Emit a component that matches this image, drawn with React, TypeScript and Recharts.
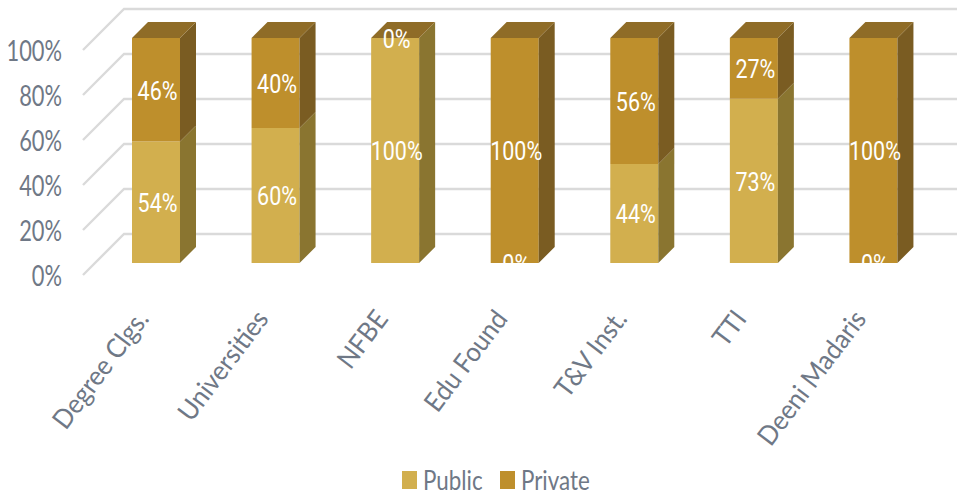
import React from "react";
import { BarChart, Bar, XAxis, YAxis, CartesianGrid, Legend, LabelList } from "recharts";

const categories = ["Degree Clgs.", "Universities", "NFBE", "Edu Found", "T&V Inst.", "TTI", "Deeni Madaris"];
const publicShare = [54, 60, 100, 0, 44, 73, 0];
const privateShare = [46, 40, 0, 100, 56, 27, 100];
const yTicks = [0, 20, 40, 60, 80, 100];

const rows = categories.map((name, i) => ({ name, Public: publicShare[i], Private: privateShare[i] }));

const WIDTH = 957;
const HEIGHT = 496;
const PLOT_BOTTOM = 263;
const DEPTH = 16;
const AXIS_COLOR = "#6f7886";
const AXIS_FONT = "Lato, sans-serif";
const LABEL_FONT = "Roboto, sans-serif";

const PALETTE = {
  Public: { front: "#D2AF4E", side: "#8A7530", top: "#9A7B33" },
  Private: { front: "#BE8F2C", side: "#7A5C22", top: "#8F6C27" },
};

// Floor-and-wall gridline: short diagonal in front, then flat along the back wall.
const GridLine = (props: any) => {
  const y = props.y1;
  const points = `83,${y + 12} 124,${y - 29} ${WIDTH},${y - 29}`;
  return <polyline points={points} fill="none" stroke="#DADADA" strokeWidth={2.4} />;
};

// Front, side and (for the upper series) top faces of one extruded segment.
const Block = (props: any) => {
  const { x, y, width, height, tone, capped } = props;
  const c = PALETTE[tone as keyof typeof PALETTE];
  const right = x + width;
  const bottom = y + height;
  return (
    <g>
      {height > 0 && <rect x={x} y={y} width={width} height={height} fill={c.front} />}
      {height > 0 && (
        <polygon
          points={`${right},${y} ${right + DEPTH},${y - DEPTH} ${right + DEPTH},${bottom - DEPTH} ${right},${bottom}`}
          fill={c.side}
        />
      )}
      {capped && (
        <polygon
          points={`${x},${y} ${x + DEPTH},${y - DEPTH} ${right + DEPTH},${y - DEPTH} ${right},${y}`}
          fill={c.top}
        />
      )}
    </g>
  );
};

const SegmentLabel = (props: any) => {
  const { x, y, width, height, value } = props;
  const cx = x + width / 2 + 1.5;
  const cy = y + height / 2 + 1;
  return (
    <g clipPath="url(#floorClip)">
      <text
        transform={`translate(${cx},${cy}) scale(0.86,1.05)`}
        textAnchor="middle"
        dominantBaseline="central"
        fill="#FFFFFF"
        fontFamily={LABEL_FONT}
        fontSize={25}
      >
        {value}%
      </text>
    </g>
  );
};

const YTick = (props: any) => {
  const { y, payload } = props;
  return (
    <text
      transform={`translate(62,${y + 12}) scale(0.84,1.12)`}
      textAnchor="end"
      dominantBaseline="central"
      fill={AXIS_COLOR}
      fontFamily={AXIS_FONT}
      fontSize={26}
    >
      {payload.value}%
    </text>
  );
};

const XTick = (props: any) => {
  const { x, payload } = props;
  return (
    <text
      transform={`translate(${x - 14},${PLOT_BOTTOM + 50}) rotate(-53) scale(0.97,1.03)`}
      textAnchor="end"
      dominantBaseline="central"
      fill={AXIS_COLOR}
      fontFamily={AXIS_FONT}
      fontSize={26}
    >
      {payload.value}
    </text>
  );
};

const legendTextWidths = [70, 84];

const LegendRow = (props: any) => {
  const items = props.payload ?? [];
  return (
    <div style={{ display: "flex", alignItems: "center", fontFamily: AXIS_FONT, fontSize: 26, color: AXIS_COLOR }}>
      {items.map((item: any, i: number) => (
        <div key={item.value} style={{ display: "flex", alignItems: "center", marginLeft: i ? 7 : 0 }}>
          <span style={{ width: 15, height: 18, background: item.color, display: "inline-block", marginRight: 6 }} />
          <span
            style={{
              display: "inline-block",
              transform: "scaleX(0.86)",
              transformOrigin: "left center",
              width: legendTextWidths[i],
              whiteSpace: "nowrap",
            }}
          >
            {item.value}
          </span>
        </div>
      ))}
    </div>
  );
};

export default function App() {
  return (
    <div style={{ position: "absolute", left: 0, top: 0, width: WIDTH, height: HEIGHT, background: "#fff" }}>
      <BarChart
        width={WIDTH}
        height={HEIGHT}
        data={rows}
        margin={{ top: 38, right: 24, bottom: 0, left: 0 }}
      >
        <defs>
          <clipPath id="floorClip" clipPathUnits="userSpaceOnUse">
            <rect x={0} y={0} width={WIDTH} height={PLOT_BOTTOM} />
          </clipPath>
        </defs>
        <CartesianGrid vertical={false} horizontal={<GridLine />} />
        <XAxis
          dataKey="name"
          height={HEIGHT - PLOT_BOTTOM}
          axisLine={false}
          tickLine={false}
          interval={0}
          tick={<XTick />}
        />
        <YAxis
          width={96}
          domain={[0, 100]}
          ticks={yTicks}
          axisLine={false}
          tickLine={false}
          tick={<YTick />}
        />
        <Legend
          layout="horizontal"
          align="center"
          verticalAlign="middle"
          itemSorter={null}
          content={<LegendRow />}
          wrapperStyle={{ position: "absolute", left: 402, top: 464, width: 240, height: 32 }}
        />
        <Bar
          dataKey="Public"
          stackId="share"
          barSize={48}
          fill={PALETTE.Public.front}
          isAnimationActive={false}
          shape={<Block tone="Public" />}
        >
          <LabelList dataKey="Public" content={<SegmentLabel />} />
        </Bar>
        <Bar
          dataKey="Private"
          stackId="share"
          barSize={48}
          fill={PALETTE.Private.front}
          isAnimationActive={false}
          shape={<Block tone="Private" capped />}
        >
          <LabelList dataKey="Private" content={<SegmentLabel />} />
        </Bar>
      </BarChart>
    </div>
  );
}
